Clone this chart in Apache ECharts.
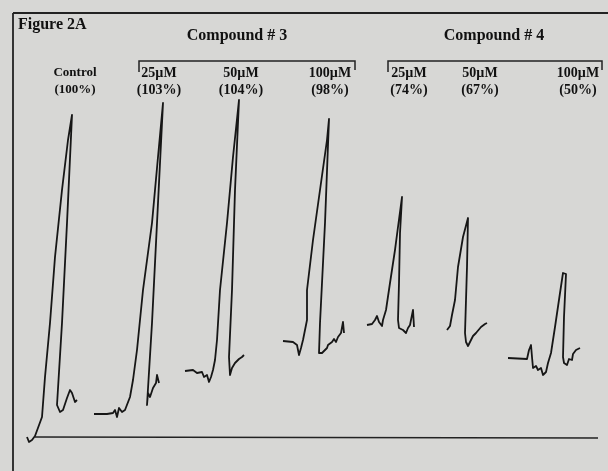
<!DOCTYPE html>
<html><head><meta charset="utf-8">
<script src="https://cdn.jsdelivr.net/npm/echarts@6/dist/echarts.min.js"></script>
<style>html,body{margin:0;padding:0;background:#d7d7d5}#c{width:608px;height:471px}</style>
</head><body><div id="c"></div>
<script>
// Trace readings: [time, deflection] (deflection axis inverted, larger = lower)
var control = [[27,437],[29,442],[32,440],[35,436],[37,437],[42,417],[45,377],[50,323],[55,257],[62,190],[68,140],[72,115],[67,223],[62,323],[57,405],[60,412],[63,410],[67,398],[70,390],[72,393],[75,402],[77,400]];
var c3_25 = [[94,414],[107,414],[113,413],[115,410],[117,417],[119,408],[122,412],[125,410],[127,408],[130,397],[133,380],[137,350],[143,290],[152,223],[158,157],[163,103],[157,223],[152,323],[147,405],[148,393],[150,397],[153,388],[156,383],[157,375],[159,383]];
var c3_50 = [[185,371],[193,370],[197,373],[199,375],[202,372],[204,377],[207,375],[209,382],[211,377],[213,370],[215,360],[217,340],[220,290],[227,223],[233,157],[239,100],[235,190],[232,290],[229,357],[230,375],[232,368],[235,363],[237,365],[239,359],[242,357],[244,355]];
var c3_100 = [[283,341],[293,342],[297,345],[299,355],[301,348],[303,340],[305,330],[307,320],[307,290],[313,240],[320,190],[327,140],[329,119],[325,223],[320,323],[319,353],[322,353],[323,352],[327,348],[328,345],[332,342],[334,339],[336,342],[338,337],[341,333],[343,335],[343,322],[344,333]];
var c4_25 = [[367,325],[372,324],[375,320],[377,316],[379,322],[382,326],[383,320],[386,310],[390,283],[395,250],[398,227],[402,197],[400,233],[399,283],[398,320],[399,328],[403,330],[406,333],[408,328],[410,325],[412,323],[413,310],[414,327]];
var c4_50 = [[447,330],[450,326],[452,315],[455,300],[458,267],[463,237],[468,218],[467,267],[465,333],[466,342],[468,346],[471,340],[473,336],[476,333],[478,332],[481,327],[483,328],[485,324],[487,323]];
var c4_100 = [[508,358],[527,359],[529,350],[531,345],[532,357],[533,368],[536,366],[538,370],[541,368],[543,375],[546,372],[548,363],[551,353],[555,327],[560,293],[563,273],[566,274],[564,317],[563,357],[564,363],[567,365],[569,359],[572,360],[573,354],[576,350],[578,352],[580,348]];
var baseline = [[35,437],[598,438]];

var doseLabels = ['Control','25\u00b5M','50\u00b5M','100\u00b5M','25\u00b5M','50\u00b5M','100\u00b5M'];
var pctLabels = ['(100%)','(103%)','(104%)','(98%)','(74%)','(67%)','(50%)'];
var labelX = [75,159,241,330,409,480,578];
var groupTitles = ['Compound # 3','Compound # 4'];

var chart = echarts.init(document.getElementById('c'), null, {renderer:'canvas'});
var traces = [control,c3_25,c3_50,c3_100,c4_25,c4_50,c4_100];
var series = traces.map(function(d){
  return {type:'line', data:d, showSymbol:false, symbol:'none', smooth:false, silent:true,
    lineStyle:{color:'#161616', width:1.8, join:'round'}};
});
series.push({type:'line', data:baseline, showSymbol:false, symbol:'none', silent:true, lineStyle:{color:'#222', width:1.4}});

var fontFamily = 'Liberation Serif';
function txt(x, y, s, size, align){
  return {type:'text', x:x, y:y, style:{text:s, fontFamily:fontFamily, fontWeight:'bold', fontSize:size, fill:'#111', align:align||'center', verticalAlign:'middle'}};
}
var graphics = [
  {type:'line', shape:{x1:13,y1:13,x2:608,y2:13}, style:{stroke:'#222', lineWidth:1.8}},
  {type:'line', shape:{x1:13,y1:13,x2:13,y2:471}, style:{stroke:'#222', lineWidth:1.8}},
  txt(18, 25, 'Figure 2A', 16, 'left'),
  txt(237, 36, groupTitles[0], 16),
  txt(494, 36, groupTitles[1], 16),
  {type:'polyline', shape:{points:[[139,72],[139,61],[355,61],[355,70]]}, style:{stroke:'#222', lineWidth:1.5, fill:null}},
  {type:'polyline', shape:{points:[[388,72],[388,61],[602,61],[602,70]]}, style:{stroke:'#222', lineWidth:1.5, fill:null}}
];
for (var i=0;i<doseLabels.length;i++){
  var fs = (i === 0) ? 13 : 14;
  graphics.push(txt(labelX[i], 73, doseLabels[i], fs));
  graphics.push(txt(labelX[i], 90, pctLabels[i], fs));
}

chart.setOption({
  backgroundColor:'#d7d7d5',
  animation:false,
  grid:{left:0,right:0,top:0,bottom:0},
  xAxis:{type:'value', min:0, max:608, show:false},
  yAxis:{type:'value', min:0, max:471, inverse:true, show:false},
  series:series,
  graphic:graphics
});
</script></body></html>
